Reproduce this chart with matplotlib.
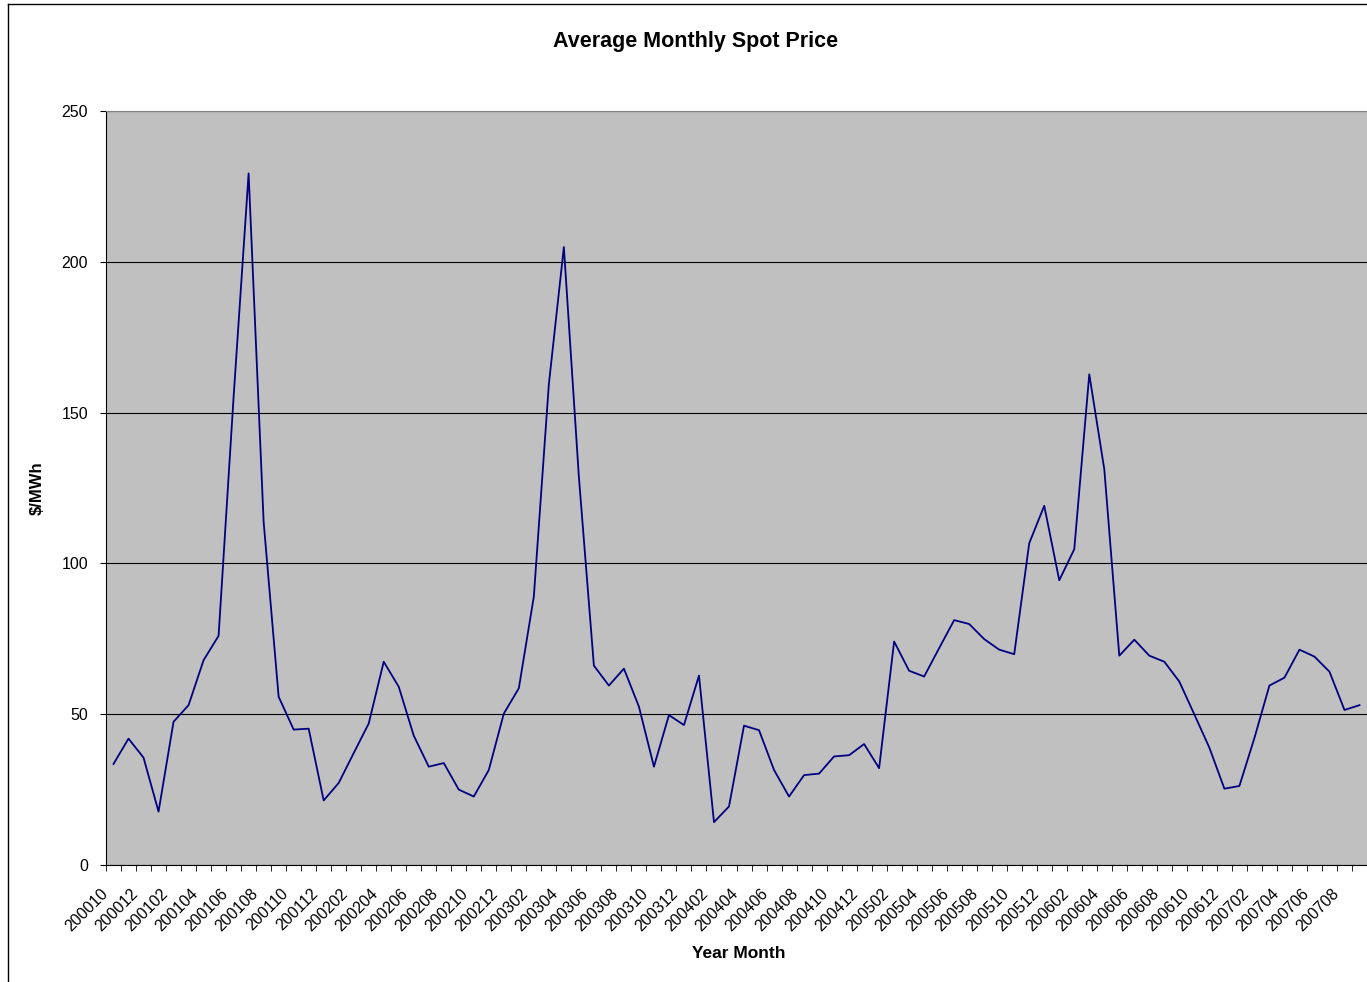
import matplotlib
matplotlib.use('Agg')
from matplotlib import pyplot as plt
from matplotlib.lines import Line2D
from matplotlib.transforms import ScaledTranslation
import pandas as pd

plt.rcParams['font.family'] = ['Liberation Sans', 'DejaVu Sans']

# monthly categories, Oct 2000 .. Sep 2007
months = list(pd.period_range('2000-10', '2007-09', freq='M').strftime('%Y%m'))

# average spot price, $/MWh
price = [33.5, 41.9, 35.6, 17.7, 47.5, 53.0, 67.9, 76.0, 155.2, 229.3,
         113.8, 55.8, 44.9, 45.2, 21.4, 27.2, 37.1, 46.9, 67.4, 59.1,
         42.9, 32.6, 33.8, 25.0, 22.7, 31.5, 50.2, 58.6, 89.0, 159.4,
         204.9, 128.7, 66.1, 59.5, 65.1, 52.5, 32.6, 49.7, 46.4, 62.8,
         14.2, 19.4, 46.2, 44.7, 31.5, 22.7, 29.8, 30.3, 36.0, 36.4,
         40.1, 32.1, 74.1, 64.4, 62.5, 71.9, 81.2, 79.9, 74.9, 71.4,
         69.9, 106.7, 119.1, 94.4, 104.7, 162.7, 131.2, 69.4, 74.7, 69.4,
         67.4, 60.8, 49.9, 38.9, 25.3, 26.2, 42.1, 59.5, 62.1, 71.4,
         69.1, 64.1, 51.4, 53.0]

yticks = [0, 50, 100, 150, 200, 250]

W, H = 1367, 982
fig = plt.figure(figsize=(W / 100, H / 100), dpi=100)
ax = fig.add_axes([106 / W, 117 / H, 1261 / W, 754 / H])
ax.set_facecolor('#C0C0C0')

x = list(range(len(months)))
ax.plot(x, price, color='#000080', linewidth=1.3)

ax.set_xlim(-0.5, len(months) - 0.5)
ax.set_ylim(0, 250)
ax.set_yticks(yticks)
ax.yaxis.grid(True, color='black', linewidth=0.8)
ax.set_axisbelow(True)

# labels on every second month, tick marks between categories
ax.set_xticks(x[::2])
ax.set_xticklabels(months[::2], rotation=45, ha='right', va='center',
                   rotation_mode='anchor', fontsize=11.5)
ax.set_xticks([i - 0.5 for i in range(len(months) + 1)], minor=True)
ax.tick_params(axis='x', which='major', length=0, pad=19)
ax.tick_params(axis='x', which='minor', length=4, direction='out', color='black')
ax.tick_params(axis='y', length=4, direction='out', pad=9, labelsize=11.5)
shift = ScaledTranslation(-8 / 100, 0, fig.dpi_scale_trans)
for lbl in ax.get_xticklabels():
    lbl.set_transform(lbl.get_transform() + shift)

ax.spines['top'].set_color('#808080')
ax.spines['right'].set_visible(False)
ax.spines['left'].set_color('black')
ax.spines['bottom'].set_color('black')

ax.set_xlabel('Year Month', fontsize=12.5, fontweight='bold')
ax.xaxis.set_label_coords((739 - 106) / 1261, (865 - 946) / 754)
ax.set_ylabel('$/MWh', fontsize=12, fontweight='bold')
ax.yaxis.set_label_coords((45 - 106) / 1261, 0.5)
fig.text(696 / W, 1 - 42 / H, 'Average Monthly Spot Price', fontsize=15.5,
         fontweight='bold', ha='center', va='center')

# chart area frame (left and top edges visible)
fig.add_artist(Line2D([8 / W, 8 / W], [0, 1 - 4 / H], color='black', linewidth=1))
fig.add_artist(Line2D([8 / W, 1], [1 - 4 / H, 1 - 4 / H], color='black', linewidth=1))

fig.savefig('out.png', dpi=100)
